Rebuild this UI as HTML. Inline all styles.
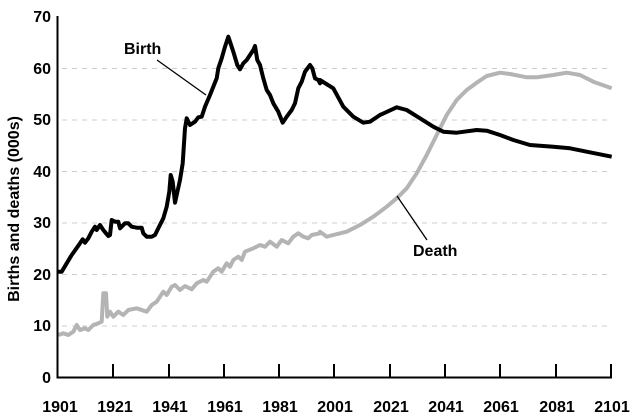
<!DOCTYPE html>
<html><head><meta charset="utf-8"><style>
html,body{margin:0;padding:0;background:#fff;}
svg{display:block;}
text{font-family:"Liberation Sans",Arial,sans-serif;}
</style></head><body>
<svg id="s" width="640" height="420" viewBox="0 0 640 420" xmlns="http://www.w3.org/2000/svg">
<g stroke="#ccc" stroke-width="1" stroke-dasharray="5,5">
<line x1="62" y1="68.5" x2="612" y2="68.5"/>
<line x1="62" y1="120" x2="612" y2="120"/>
<line x1="62" y1="171.5" x2="612" y2="171.5"/>
<line x1="62" y1="223" x2="612" y2="223"/>
<line x1="62" y1="274.5" x2="612" y2="274.5"/>
<line x1="62" y1="326" x2="612" y2="326"/>
</g>
<g font-size="16" font-weight="bold" text-anchor="end" fill="#000">
<text x="51" y="383">0</text>
<text x="51" y="331">10</text>
<text x="51" y="280">20</text>
<text x="51" y="228">30</text>
<text x="51" y="177">40</text>
<text x="51" y="125">50</text>
<text x="51" y="74">60</text>
<text x="51" y="22">70</text>
</g>
<g font-size="16" font-weight="bold" text-anchor="middle" fill="#000">
<text x="60" y="412">1901</text>
<text x="115" y="412">1921</text>
<text x="170" y="412">1941</text>
<text x="225" y="412">1961</text>
<text x="280" y="412">1981</text>
<text x="335" y="412">2001</text>
<text x="391" y="412">2021</text>
<text x="446" y="412">2041</text>
<text x="501" y="412">2061</text>
<text x="557" y="412">2081</text>
<text x="612" y="412">2101</text>
</g>
<text transform="translate(19,209) rotate(-90)" font-size="16" font-weight="bold" text-anchor="middle">Births and deaths (000s)</text>
<polyline id="death" fill="none" stroke="#b4b4b4" stroke-width="4" stroke-linejoin="round"/>
<polyline id="birth" fill="none" stroke="#000" stroke-width="4" stroke-linejoin="round"/>
<g stroke="#000" stroke-width="1.3">
<line x1="157" y1="60" x2="206" y2="95"/>
<line x1="397" y1="196" x2="427" y2="240"/>
</g>
<text x="124" y="54" font-size="16" font-weight="bold">Birth</text>
<text x="413" y="256" font-size="16" font-weight="bold">Death</text>
<g stroke="#000" stroke-width="2" fill="none">
<polyline points="57.5,16 57.5,377.5 612,377.5"/>
</g>
<g stroke="#000" stroke-width="2">
<line x1="113" y1="364" x2="113" y2="377"/>
<line x1="169" y1="364" x2="169" y2="377"/>
<line x1="224" y1="364" x2="224" y2="377"/>
<line x1="279" y1="364" x2="279" y2="377"/>
<line x1="334" y1="364" x2="334" y2="377"/>
<line x1="390" y1="364" x2="390" y2="377"/>
<line x1="445" y1="364" x2="445" y2="377"/>
<line x1="500" y1="364" x2="500" y2="377"/>
<line x1="556" y1="364" x2="556" y2="377"/>
<line x1="611" y1="364" x2="611" y2="377"/>
</g>
</svg>
<script>
var b1=[175,815,185,815,200,790,215,765,240,730,248,718,255,728,265,715,275,695,285,680,290,690,300,675,310,690,318,700,325,708,330,705,335,660,345,665,355,665,360,685,375,670,385,670,395,680,410,683,425,683,430,700,440,710,455,710,465,705,475,685,490,655,500,620,508,575,512,525,518,545,525,608,530,585,540,540,548,490,555,385,560,355,570,375,585,365,595,352,605,350,615,320,630,285,640,260,650,235,655,205,665,175,675,140,685,110,690,125,700,155,712,195,720,208,730,190,740,180,750,165,760,150,765,138,772,180,780,195,790,235,800,270,810,285,820,310,835,335,848,368,860,350,875,330,885,310,895,265,905,245,915,215,930,195,937,205,945,235,955,240,960,250];
var b2=[0,240,40,265,70,320,100,350,130,368,150,365,180,345,230,322,260,330,300,355,340,380,370,395,410,398,470,390,500,392,540,405,580,420,630,435,700,440,750,445,800,455,875,470];
var d1=[175,1005,190,1000,205,1005,220,995,230,975,240,990,255,985,265,990,280,975,295,970,305,965,310,880,318,880,322,950,330,935,340,950,355,935,370,945,385,930,410,925,440,935,455,915,470,905,490,875,500,885,515,860,525,855,540,870,555,858,575,868,590,850,610,840,620,845,640,815,655,805,665,815,680,790,690,800,700,780,715,770,725,780,735,755,760,745,780,735,795,740,810,725,830,740,845,720,865,730,880,710,895,700,910,710,925,715,935,705,960,700];
var d2=[0,695,20,710,40,705,80,695,120,675,160,650,200,620,230,595,260,565,290,520,320,465,350,405,380,345,410,300,440,270,470,248,500,228,540,218,570,222,620,232,650,232,700,225,740,218,780,225,820,245,875,265];
function pts(a,off,s){for(var i=0;i<a.length;i+=2)s.push((off+a[i]/3).toFixed(1)+","+(a[i+1]/3).toFixed(1));return s;}
document.getElementById("birth").setAttribute("points",pts(b2,320,pts(b1,0,[])).join(" "));
document.getElementById("death").setAttribute("points",pts(d2,320,pts(d1,0,[])).join(" "));
</script>
</body></html>
